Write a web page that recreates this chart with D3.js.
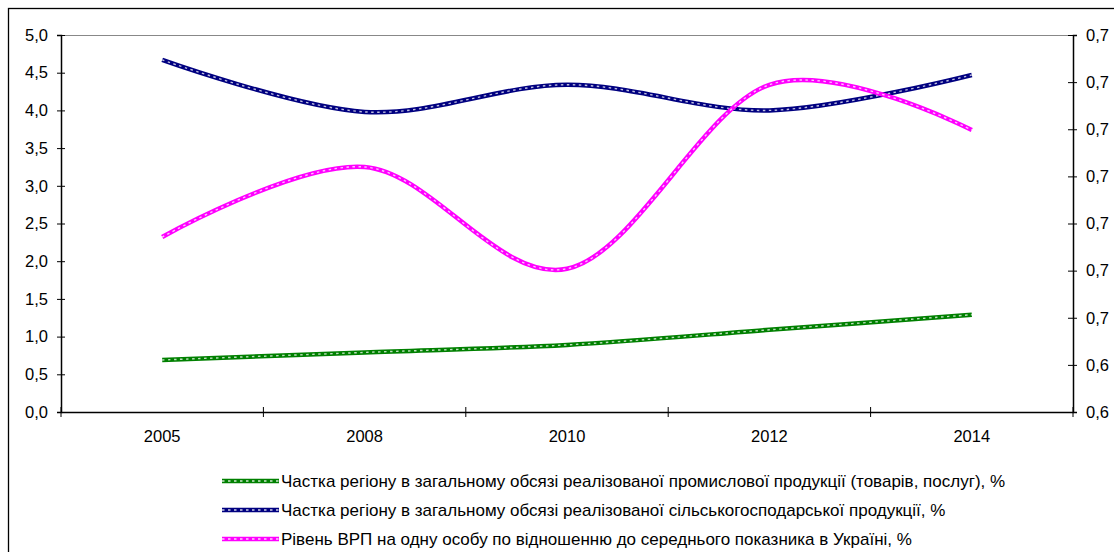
<!DOCTYPE html>
<html><head><meta charset="utf-8">
<script src="https://cdn.jsdelivr.net/npm/d3@7"></script>
<style>
html,body{margin:0;padding:0;background:#fff;}
svg{display:block;font-family:"Liberation Sans",Arial,sans-serif;}
</style></head>
<body>
<svg id="chart" width="1114" height="552"></svg>
<script>
const categories = ["2005","2008","2010","2012","2014"];
const industrial = [0.69, 0.79, 0.89, 1.09, 1.29];
const agricultural = [4.67, 3.98, 4.34, 4.00, 4.47];
const grp = [2.32, 3.25, 1.90, 4.34, 3.74];
const seriesNames = [
  "Частка регіону в загальному обсязі реалізованої промислової продукції (товарів, послуг), %",
  "Частка регіону в загальному обсязі реалізованої сільськогосподарської продукції, %",
  "Рівень ВРП на одну особу по відношенню до середнього показника в Україні, %"
];
const leftTicks = [0,0.5,1,1.5,2,2.5,3,3.5,4,4.5,5];
const rightTickValues = [0.64,0.65,0.66,0.67,0.68,0.69,0.70,0.71,0.72];
const rightTickLabels = ["0,6","0,6","0,7","0,7","0,7","0,7","0,7","0,7","0,7"];

const colors = ["#008000","#000080","#ff00ff"];
const series = [industrial, agricultural, grp];

const svg = d3.select("#chart");
const L = 61, R = 1073, T = 35, B = 412;
const tickFont = 16.5, legFont = 17;

// outer border
svg.append("rect").attr("x",8.5).attr("y",8.5).attr("width",1120).attr("height",560)
  .attr("fill","none").attr("stroke","#000").attr("stroke-width",1.3);

const x = d3.scaleBand().domain(categories).range([L,R]).padding(0);
const y = d3.scaleLinear().domain([0,5]).range([B,T]);
const y2 = d3.scaleLinear().domain([0.64,0.72]).range([B,T]);

// top grey border of plot area
svg.append("line").attr("x1",L).attr("x2",R).attr("y1",T+0.5).attr("y2",T+0.5)
  .attr("stroke","#888").attr("stroke-width",1);

const fmt = d => d3.format(".1f")(d).replace(".",",");

// left axis
const gl = svg.append("g").attr("transform",`translate(${L},0)`)
  .call(d3.axisLeft(y).tickValues(leftTicks).tickFormat(fmt).tickSizeOuter(0).tickSize(4).tickPadding(9));
gl.select(".domain").attr("stroke","#000").attr("stroke-width",1.5);
gl.selectAll(".tick line").attr("x1",4).attr("x2",-4).attr("stroke","#000");
gl.selectAll(".tick text").attr("font-size",tickFont).attr("fill","#000").attr("font-family","Liberation Sans, Arial, sans-serif");

// right axis
const gr = svg.append("g").attr("transform",`translate(${R},0)`)
  .call(d3.axisRight(y2).tickValues(rightTickValues).tickFormat((d,i)=>rightTickLabels[i]).tickSizeOuter(0).tickSize(4).tickPadding(9));
gr.select(".domain").attr("stroke","#000").attr("stroke-width",1.5);
gr.selectAll(".tick line").attr("x1",-5).attr("x2",4).attr("stroke","#000");
gr.selectAll(".tick text").attr("font-size",tickFont).attr("fill","#000").attr("font-family","Liberation Sans, Arial, sans-serif");

// bottom axis: line + ticks at band boundaries, labels at centers
const gb = svg.append("g").attr("transform",`translate(0,${B})`)
  .call(d3.axisBottom(x).tickSize(0).tickPadding(18));
gb.select(".domain").attr("stroke","#000").attr("stroke-width",1.5);
gb.selectAll(".tick text").attr("font-size",tickFont).attr("fill","#000").attr("font-family","Liberation Sans, Arial, sans-serif");
const boundaries = categories.map(c => x(c)).concat([x(categories[categories.length-1]) + x.bandwidth()]);
gb.selectAll("line.bt").data(boundaries).enter().append("line").attr("class","bt")
  .attr("x1",d=>d).attr("x2",d=>d).attr("y1",-5).attr("y2",5).attr("stroke","#000");

// lines
const line = d3.line()
  .x((d,i)=>x(categories[i]) + x.bandwidth()/2)
  .y(d=>y(d))
  .curve(d3.curveCardinal.tension(0));

series.forEach((s,i)=>{
  svg.append("path").attr("d",line(s)).attr("fill","none")
    .attr("stroke",colors[i]).attr("stroke-width",4.5).attr("stroke-linejoin","round");
  svg.append("path").attr("d",line(s)).attr("fill","none")
    .attr("stroke","#fff").attr("stroke-width",1.4).attr("stroke-opacity",0.75)
    .attr("stroke-dasharray","2.5,3.5");
});

// legend
const legY = [481, 510, 539];
seriesNames.forEach((n,i)=>{
  const g = svg.append("g");
  g.append("line").attr("x1",222).attr("x2",279).attr("y1",legY[i]).attr("y2",legY[i])
    .attr("stroke",colors[i]).attr("stroke-width",4.5);
  g.append("line").attr("x1",222).attr("x2",279).attr("y1",legY[i]).attr("y2",legY[i])
    .attr("stroke","#fff").attr("stroke-width",1.4).attr("stroke-opacity",0.8).attr("stroke-dasharray","2.5,3.5");
  g.append("text").attr("x",281).attr("y",legY[i]).attr("dy","0.36em")
    .attr("font-size",legFont).attr("fill","#000").text(n);
});
</script>
</body></html>
